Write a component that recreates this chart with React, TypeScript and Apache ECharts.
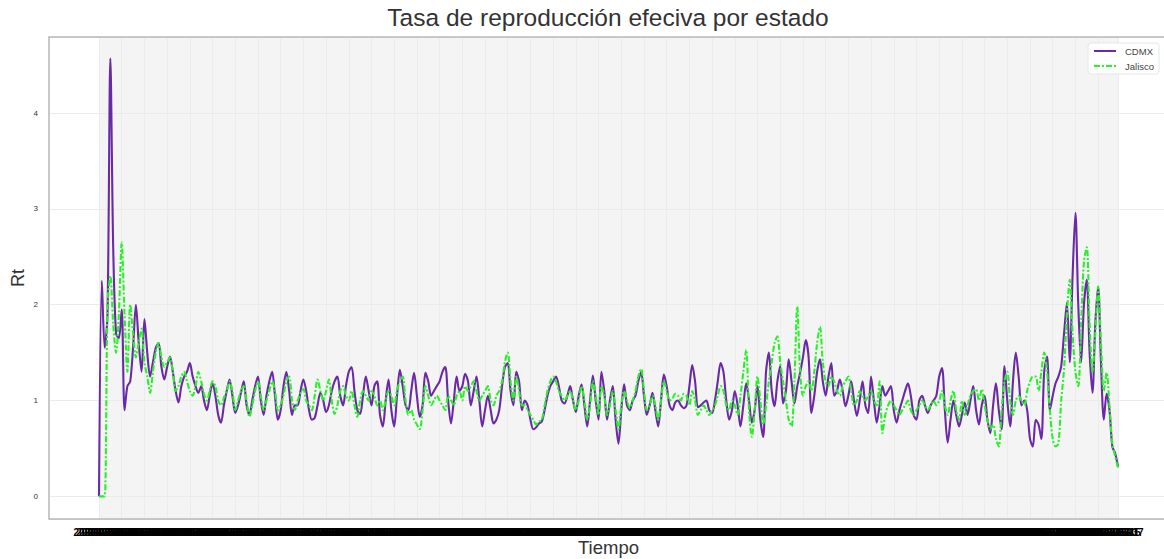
import React, { useEffect, useRef } from "react";
import * as echarts from "echarts";

// Rt estimates, one value every two days, starting 2020-03-01
const START_DATE = Date.UTC(2020, 2, 1);
const STEP_DAYS = 2;

const cdmx = [
  0, 2.25, 1.55, 1.9, 4.57, 2.6, 1.7, 1.65, 1.95, 0.9,
  1.15, 1.2, 1.55, 2.0, 1.6, 1.3, 1.85, 1.5, 1.25, 1.4,
  1.55, 1.6, 1.35, 1.22, 1.35, 1.46, 1.3, 1.1, 0.98, 1.15,
  1.25, 1.3, 1.39, 1.25, 1.15, 1.08, 1.15, 1.0, 0.9, 1.05,
  1.18, 1.05, 0.85, 0.77, 0.95, 1.1, 1.22, 1.05, 0.87, 0.95,
  1.08, 1.2, 0.95, 0.85, 1.0, 1.15, 1.25, 1.0, 0.85, 1.05,
  1.2, 1.3, 1.05, 0.8, 0.9, 1.15, 1.3, 1.1, 0.85, 0.95,
  0.95, 1.1, 1.22, 1.1, 0.9, 0.8, 0.82, 0.95, 1.08, 1.0,
  0.88, 0.95, 1.1, 1.2, 1.25, 1.05, 0.95, 1.15, 1.3, 1.35,
  1.1, 0.9, 0.86, 1.05, 1.25, 1.1, 0.95, 1.15, 1.2, 0.85,
  0.73, 1.0, 1.22, 0.9, 0.73, 1.05, 1.32, 1.15, 0.95, 0.9,
  1.1, 1.29, 1.05, 0.83, 0.95, 1.29, 1.2, 1.05, 1.1, 1.15,
  1.2, 1.3, 1.35, 1.0, 0.76, 1.0, 1.25, 1.1, 1.15, 1.28,
  1.2, 0.95, 1.1, 1.25, 1.0, 0.73, 0.9, 1.05, 0.9, 0.76,
  0.8, 0.9, 1.15, 1.35, 1.39, 1.1, 0.95, 1.3, 1.2, 0.9,
  1.0, 0.95, 0.8, 0.7, 0.72, 0.76, 0.78, 0.9, 1.05, 1.15,
  1.2, 1.25, 1.15, 1.0, 0.97, 1.05, 1.15, 1.0, 0.88, 1.05,
  1.17, 0.95, 0.73, 1.0, 1.26, 1.0, 0.8, 1.3, 1.1, 0.8,
  1.0, 1.15, 0.8, 0.55, 0.9, 1.17, 0.95, 0.9, 1.0, 1.05,
  1.2, 1.3, 1.05, 0.85, 0.95, 1.08, 0.9, 0.73, 1.0, 1.27,
  1.15, 0.95, 0.9, 0.98, 1.0, 0.95, 0.92, 0.95, 1.15, 1.37,
  1.2, 0.93, 0.95, 0.98, 1.0, 0.9, 0.87, 1.0, 1.2, 1.39,
  1.3, 1.0, 0.8, 0.9, 1.1, 0.95, 0.73, 0.95, 1.18, 1.0,
  0.77, 0.9, 1.15, 0.8, 0.62, 1.3, 1.5, 1.1, 0.94, 1.2,
  1.36, 0.97, 1.1, 1.43, 1.2, 0.97, 1.15, 1.29, 1.45, 1.63,
  1.45, 0.87, 1.05, 1.3, 1.43, 1.2, 1.05, 1.25, 1.39, 1.05,
  1.1, 1.22, 1.1, 0.94, 1.05, 1.2, 1.0, 0.84, 1.0, 1.2,
  0.95, 0.87, 1.25, 1.0, 0.77, 0.95, 1.15, 1.05, 1.1, 1.15,
  0.9, 0.77, 0.9, 1.0, 1.1, 1.18, 1.05, 0.85, 0.8, 1.0,
  1.05, 0.95, 0.87, 0.95, 1.0, 1.05, 1.25, 1.34, 0.9, 0.56,
  0.8, 1.0, 0.85, 0.73, 0.85, 0.98, 0.85, 1.0, 1.15, 0.9,
  0.75, 0.95, 1.05, 0.8, 0.66, 0.95, 1.18, 0.9, 0.7, 1.36,
  1.0, 0.73, 1.2, 1.5, 1.25, 0.95, 1.0, 0.9, 0.6, 0.52,
  0.8, 0.75, 0.6, 1.3, 1.46, 0.9, 1.05, 1.18, 1.25, 1.36,
  1.7, 2.02, 1.4, 2.3, 2.96, 2.0, 1.4, 2.0, 2.26, 1.5,
  1.08, 1.8, 2.19, 1.4, 0.8, 1.07, 0.9, 0.52, 0.45, 0.31,
];

const jalisco = [
  0, 0, 0, 2.0, 2.3, 1.8, 1.5, 1.9, 2.65, 1.9,
  1.3, 2.0, 1.7, 1.45, 1.6, 1.75, 1.4, 1.25, 1.08, 1.3,
  1.5, 1.6, 1.45, 1.35, 1.4, 1.45, 1.3, 1.1, 1.15, 1.25,
  1.3, 1.2, 1.1, 1.05, 1.15, 1.3, 1.2, 1.07, 1.0, 1.1,
  1.2, 1.15, 1.0, 0.95, 1.03, 1.1, 1.2, 1.1, 0.9, 1.0,
  1.1, 1.15, 1.0, 0.83, 0.95, 1.1, 1.2, 1.05, 0.9, 1.0,
  1.1, 1.2, 1.1, 0.9, 0.95, 1.05, 1.2, 1.25, 1.0, 0.9,
  1.0, 1.08, 1.12, 1.0, 0.95, 0.9, 1.05, 1.22, 1.1, 1.0,
  1.1, 1.22, 1.0, 0.86, 0.95, 1.1, 1.15, 1.05, 1.0, 1.1,
  0.95, 0.83, 1.0, 1.1, 1.05, 1.0, 1.1, 1.05, 0.95, 1.0,
  0.9, 1.0, 1.1, 1.05, 0.95, 1.1, 1.2, 1.25, 1.0, 0.85,
  0.9, 0.8, 0.75, 0.7, 0.9, 1.15, 1.05, 0.95, 1.0, 1.05,
  1.0, 0.95, 0.9, 1.05, 1.0, 0.95, 1.05, 1.1, 1.0, 1.15,
  1.1, 1.15, 1.2, 1.1, 1.0, 1.05, 1.1, 1.15, 1.0, 0.95,
  1.05, 1.1, 1.2, 1.4, 1.5, 1.2, 1.0, 1.25, 1.1, 0.95,
  0.95, 0.9, 0.85, 0.8, 0.75, 0.78, 0.8, 0.95, 1.1, 1.2,
  1.25, 1.2, 1.1, 1.05, 1.0, 1.05, 1.1, 1.0, 0.9, 1.0,
  1.15, 1.0, 0.8, 0.95, 1.2, 1.05, 0.85, 1.15, 1.05, 0.85,
  0.95, 1.1, 0.9, 0.7, 0.95, 1.1, 1.0, 0.92, 1.0, 1.1,
  1.25, 1.33, 1.1, 0.9, 0.95, 1.05, 0.95, 0.8, 1.0, 1.2,
  1.1, 1.0, 1.02, 1.07, 1.05, 1.0, 1.07, 1.05, 0.95, 1.1,
  1.0, 0.85, 0.9, 0.95, 0.9, 0.85, 0.9, 0.95, 1.05, 1.15,
  1.1, 0.95, 0.9, 1.0, 0.95, 0.85, 1.05, 1.3, 1.53, 0.9,
  0.62, 0.9, 1.25, 1.0, 0.75, 0.95, 1.2, 1.4, 1.6, 1.67,
  1.4, 1.2, 1.0, 0.8, 0.73, 1.2, 1.98, 1.3, 1.05, 1.15,
  1.2, 1.1, 1.3, 1.6, 1.77, 1.4, 1.2, 1.15, 1.25, 1.2,
  1.1, 1.05, 1.15, 1.2, 1.25, 1.1, 0.95, 1.0, 1.1, 1.05,
  1.0, 1.05, 1.1, 1.0, 0.95, 1.2, 0.66, 0.85, 0.95, 1.0,
  0.95, 0.9, 0.85, 0.9, 0.95, 1.0, 0.9, 0.85, 0.9, 0.95,
  1.0, 0.95, 0.9, 0.95, 1.0, 0.95, 1.0, 1.1, 0.95, 0.85,
  1.0, 1.1, 0.9, 0.8, 1.0, 0.85, 0.95, 1.05, 1.1, 1.12,
  1.0, 1.12, 0.95, 0.8, 0.7, 0.75, 0.6, 0.52, 0.9, 1.2,
  1.3, 1.0, 0.85, 1.0, 1.05, 1.0, 0.95, 1.1, 1.2, 1.25,
  1.25, 1.1, 1.3, 1.5, 1.3, 0.9, 0.6, 0.52, 0.55, 1.0,
  1.33, 1.9, 2.26, 1.7, 1.3, 1.15, 1.8, 2.45, 2.6, 1.8,
  1.3, 1.7, 2.19, 1.6, 1.1, 1.29, 0.95, 0.55, 0.42, 0.3,
];

// One date label per observation
const fechas: string[] = cdmx.map((_, i) =>
  new Date(START_DATE + i * STEP_DAYS * 86400000).toISOString().slice(0, 10)
);

const Y_MIN = -0.236;
const Y_MAX = 4.793;

const PURPLE = "#6a2aa6";
const GREEN = "#2af02a";

export default function App() {
  const ref = useRef<HTMLDivElement>(null);

  useEffect(() => {
    if (!ref.current) return;
    const chart = echarts.init(ref.current, null, { renderer: "svg" });
    chart.setOption({
      animation: false,
      backgroundColor: "#ffffff",
      textStyle: { fontFamily: "Liberation Sans, Arial, sans-serif" },
      title: {
        text: "Tasa de reproducción efeciva por estado",
        left: 608,
        textAlign: "center",
        top: 5,
        padding: 0,
        textStyle: { fontSize: 24.5, fontWeight: "normal", color: "#333333" },
      },
      legend: {
        orient: "vertical",
        left: 1088,
        top: 43,
        padding: [3, 5, 3, 5],
        itemWidth: 22,
        itemHeight: 10,
        itemGap: 5,
        backgroundColor: "#ffffff",
        borderColor: "#e6e6e6",
        borderWidth: 1,
        borderRadius: 3,
        itemStyle: { opacity: 0 },
        textStyle: { fontSize: 9.5, color: "#444444", padding: [0, 0, 0, 4] },
        data: ["CDMX", "Jalisco"],
      },
      grid: [
        { left: 49, right: -3, top: 37, bottom: 40, show: false, outerBoundsMode: "none" },
        {
          left: 99,
          right: 46,
          top: 37,
          bottom: 40,
          show: true,
          borderWidth: 0,
          backgroundColor: "#f4f4f4",
          outerBoundsMode: "none",
        },
      ],
      graphic: [
        {
          type: "rect",
          z: 100,
          silent: true,
          shape: { x: 49, y: 37, width: 1122, height: 482 },
          style: { fill: "none", stroke: "#b8b8b8", lineWidth: 1.5 },
        },
      ],
      xAxis: [
        { gridIndex: 0, type: "value", min: 0, max: 1, show: false },
        {
          gridIndex: 1,
          type: "category",
          data: fechas,
          boundaryGap: false,
          axisLine: { show: false },
          axisTick: { show: false },
          axisLabel: {
            interval: 0,
            fontSize: 10,
            fontWeight: "bold",
            color: "#000000",
            margin: 8,
          },
          splitLine: { show: true, interval: 7, lineStyle: { color: "#ececec", width: 1 } },
          name: "Tiempo",
          nameLocation: "middle",
          nameGap: 19,
          nameMoveOverlap: false,
          nameTextStyle: { fontSize: 18.5, color: "#333333" },
        },
      ],
      yAxis: [
        {
          gridIndex: 0,
          type: "value",
          min: Y_MIN,
          max: Y_MAX,
          axisLine: { show: false },
          axisTick: { show: false },
          axisLabel: {
            fontSize: 8,
            color: "#333333",
            margin: 11,
            showMinLabel: false,
            showMaxLabel: false,
            formatter: (v: number) => (Number.isInteger(v) ? String(v) : ""),
          },
          splitLine: { show: true, lineStyle: { color: "#ebebeb", width: 1 } },
          name: "Rt",
          nameLocation: "middle",
          nameGap: 22,
          nameMoveOverlap: false,
          nameTextStyle: { fontSize: 18, color: "#333333" },
        },
        {
          gridIndex: 1,
          type: "value",
          min: Y_MIN,
          max: Y_MAX,
          axisLine: { show: false },
          axisTick: { show: false },
          axisLabel: { show: false },
          splitLine: { show: false },
        },
      ],
      series: [
        {
          name: "CDMX",
          type: "line",
          xAxisIndex: 1,
          yAxisIndex: 1,
          data: cdmx,
          symbol: "none",
          smooth: 0.3,
          lineStyle: { color: PURPLE, width: 2.1 },
          itemStyle: { color: PURPLE },
          z: 2,
        },
        {
          name: "Jalisco",
          type: "line",
          xAxisIndex: 1,
          yAxisIndex: 1,
          data: jalisco,
          symbol: "none",
          smooth: 0.3,
          lineStyle: { color: GREEN, width: 2.1, type: [6, 2, 2, 2] },
          itemStyle: { color: GREEN },
          z: 3,
        },
      ],
    });
    return () => chart.dispose();
  }, []);

  return (
    <div
      ref={ref}
      style={{ position: "fixed", left: 0, top: 0, width: 1164, height: 559 }}
    />
  );
}
